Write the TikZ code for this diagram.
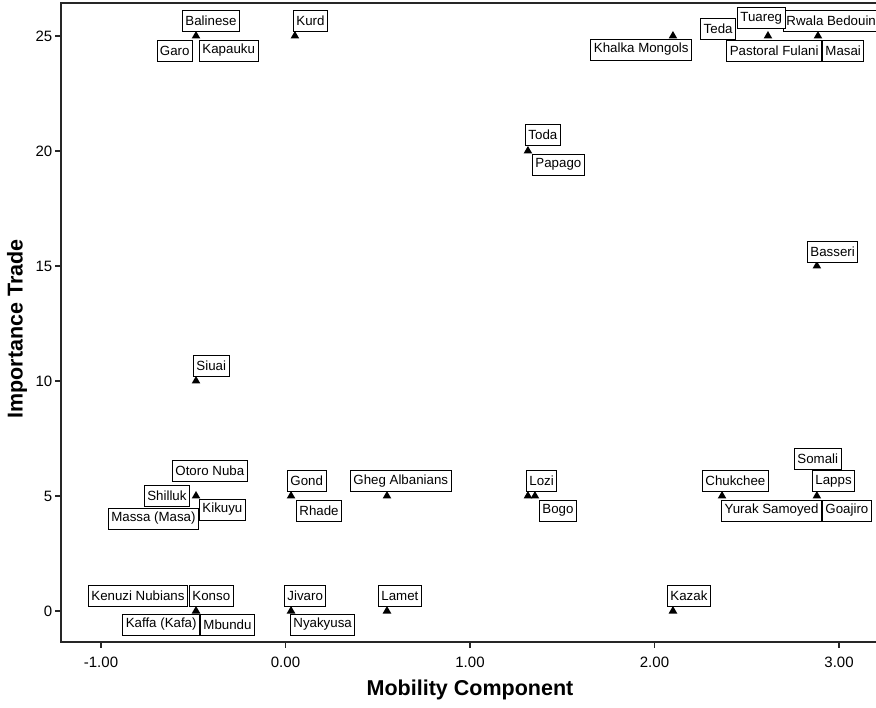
\documentclass[tikz,border=0pt]{standalone}
\usepackage{fontspec}
\setmainfont{Liberation Sans}
\usetikzlibrary{shapes.geometric,backgrounds}

\tikzset{
  lab/.style={draw, fill=white, line width=0.9pt, inner xsep=3pt, inner ysep=0pt,
    minimum height=21pt, font=\fontsize{13.3}{15}\selectfont},
  tri/.style={regular polygon, regular polygon sides=3, fill=black, draw=none,
    inner sep=0pt, minimum size=10pt},
  axis/.style={line width=1.4pt, draw=black!85},
  ticklab/.style={font=\fontsize{15}{17}\selectfont, inner sep=2pt},
  axtitle/.style={font=\bfseries\fontsize{21.5}{24}\selectfont},
  leader/.style={line width=0.8pt}
}

\begin{document}
\begin{tikzpicture}[x = 1pt, y = -1pt]
\clip (0,0) rectangle (876,708);
\fill[white] (0,0) rectangle (876,708);

% frame
\draw[axis] (876,3) -- (61,3) -- (61,642) -- (876,642);

\begin{scope}[shift={(285.5,611)}, x = 184.5pt, y = 23pt]
\foreach \v/\t in {-1/-1.00, 0/0.00, 1/1.00, 2/2.00, 3/3.00}{
  \draw[axis] (\v,-1.35) -- ++(0,-6pt);
  \node[ticklab] at (\v,-2.22) {\t};
}
\foreach \v in {0,5,...,25}
  \draw[axis] (-1.217,\v) -- ++(-6pt,0) node[ticklab, anchor=east]{\v};

% data points
\node[tri] (pbal) at (-0.485,25) {};
\node[tri] (pkurd) at (0.051,25) {};
\node[tri] (pkhalka) at (2.10,25) {};
\node[tri] (pteda) at (2.615,25) {};
\node[tri] (prwala) at (2.886,25) {};
\node[tri] (ptoda) at (1.314,20) {};
\node[tri] (pbasseri) at (2.88,15) {};
\node[tri] (psiuai) at (-0.485,10) {};
\node[tri] (potoro) at (-0.485,5) {};
\node[tri] (pgond) at (0.03,5) {};
\node[tri] (pgheg) at (0.55,5) {};
\node[tri] (plozi) at (1.314,5) {};
\node[tri] (pbogo) at (1.352,5) {};
\node[tri] (pchukchee) at (2.366,5) {};
\node[tri] (plapps) at (2.88,5) {};
\node[tri] (pkonso) at (-0.485,0) {};
\node[tri] (pjivaro) at (0.03,0) {};
\node[tri] (plamet) at (0.55,0) {};
\node[tri] (pkazak) at (2.10,0) {};
\end{scope}

% point labels
\node[lab, anchor=west] (balinese) at (182,21) {Balinese};
\node[lab, anchor=east] (garo) at (193,50.5) {Garo};
\node[lab, anchor=west] (kapauku) at (199,50.5) {Kapauku};
\node[lab, anchor=west] (kurd) at (293,21) {Kurd};
\node[lab, anchor=east] (khalka) at (692,49.5) {Khalka Mongols};
\node[lab, anchor=east] (teda) at (736,29) {Teda};
\node[lab, anchor=west] (rwala) at (783,20.5) {Rwala Bedouin};
\node[lab, anchor=west] (tuareg) at (737,18) {Tuareg};
\node[lab, anchor=east] (fulani) at (822,50.5) {Pastoral Fulani};
\node[lab, anchor=west] (masai) at (822,50.5) {Masai};
\node[lab, anchor=west] (toda) at (525,135) {Toda};
\node[lab, anchor=west] (papago) at (532,164.5) {Papago};
\node[lab, anchor=west] (basseri) at (807,252) {Basseri};
\node[lab, anchor=west] (siuai) at (193,366) {Siuai};
\node[lab, anchor=west] (otoro) at (172,470.5) {Otoro Nuba};
\node[lab, anchor=east] (shilluk) at (190,495.5) {Shilluk};
\node[lab, anchor=west] (kikuyu) at (199,509.5) {Kikuyu};
\node[lab, anchor=east] (massa) at (199,518.5) {Massa (Masa)};
\node[lab, anchor=west] (gond) at (287,481) {Gond};
\node[lab, anchor=west] (rhade) at (296,510.5) {Rhade};
\node[lab, anchor=west] (gheg) at (350,481) {Gheg Albanians};
\node[lab, anchor=west] (lozi) at (526,481) {Lozi};
\node[lab, anchor=west] (bogo) at (539,510.5) {Bogo};
\node[lab, anchor=west] (chukchee) at (702,481) {Chukchee};
\node[lab, anchor=west] (somali) at (794,458.5) {Somali};
\node[lab, anchor=west] (lapps) at (812,481) {Lapps};
\node[lab, anchor=east] (yurak) at (822,510.5) {Yurak Samoyed};
\node[lab, anchor=west] (goajiro) at (822,510.5) {Goajiro};
\node[lab, anchor=east] (kenuzi) at (188,595.5) {Kenuzi Nubians};
\node[lab, anchor=west] (konso) at (189,595.5) {Konso};
\node[lab, anchor=east] (kaffa) at (200,624.5) {Kaffa (Kafa)};
\node[lab, anchor=west] (mbundu) at (200,624.5) {Mbundu};
\node[lab, anchor=west] (jivaro) at (284,595.5) {Jivaro};
\node[lab, anchor=west] (nyakyusa) at (290,624.5) {Nyakyusa};
\node[lab, anchor=west] (lamet) at (378,596) {Lamet};
\node[lab, anchor=west] (kazak) at (667,596) {Kazak};

% leader lines under everything
\begin{scope}[on background layer]
\draw[leader] (balinese) -- (pbal.center) (garo) -- (pbal.center) (kapauku) -- (pbal.center)
  (kurd) -- (pkurd.center) (khalka) -- (pkhalka.center)
  (teda) -- (pteda.center) (tuareg) -- (pteda.center) (fulani) -- (pteda.center)
  (rwala) -- (prwala.center) (masai) -- (prwala.center)
  (toda) -- (ptoda.center) (papago) -- (ptoda.center) (basseri) -- (pbasseri.center)
  (siuai) -- (psiuai.center)
  (otoro) -- (potoro.center) (shilluk) -- (potoro.center) (kikuyu) -- (potoro.center) (massa) -- (potoro.center)
  (gond) -- (pgond.center) (rhade) -- (pgond.center) (gheg) -- (pgheg.center)
  (lozi) -- (plozi.center) (bogo) -- (pbogo.center) (chukchee) -- (pchukchee.center)
  (somali) -- (plapps.center) (lapps) -- (plapps.center) (yurak) -- (plapps.center) (goajiro) -- (plapps.center)
  (kenuzi) -- (pkonso.center) (konso) -- (pkonso.center) (kaffa) -- (pkonso.center) (mbundu) -- (pkonso.center)
  (jivaro) -- (pjivaro.center) (nyakyusa) -- (pjivaro.center)
  (lamet) -- (plamet.center) (kazak) -- (pkazak.center);
\end{scope}

% axis titles
\node[axtitle] (xtitle) at (470,690) {Mobility Component};
\node[axtitle, rotate=90] (ytitle) at (17,329) {Importance Trade};
\end{tikzpicture}
\end{document}
